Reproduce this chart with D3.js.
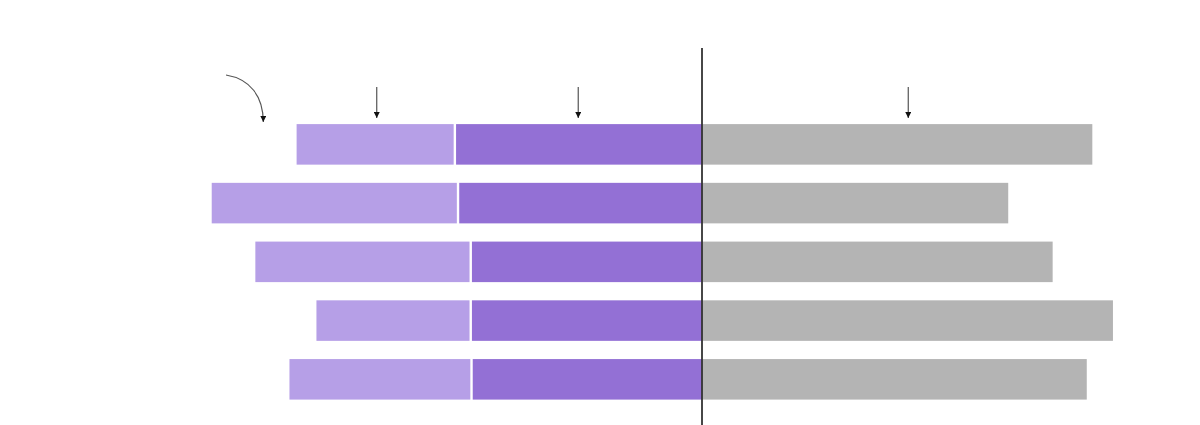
<!DOCTYPE html>
<html>
<head>
<meta charset="utf-8">
<script src="https://cdn.jsdelivr.net/npm/d3@7"></script>
<style>
  body { margin: 0; background: #fff; }
  svg { display: block; }
</style>
</head>
<body>
<svg width="1200" height="425"></svg>
<script>
// rows (top to bottom), values in % of each row
const rows = ["r1", "r2", "r3", "r4", "r5"];
const lightVals = [20.1, 31.2, 27.3, 19.6, 23.1];
const darkVals = [31.0, 30.6, 29.0, 29.0, 28.9];
const grayVals = [49.2, 38.6, 44.2, 51.8, 48.5];

// annotation arrows over the first row (x in data units)
const arrowXs = [-41.0, -15.6, 26.0];

const svg = d3.select("svg");

const xScale = d3.scaleLinear().domain([-60, 60]).range([226, 1178]);
const yScale = d3
  .scaleBand()
  .domain(rows)
  .range([115, 408.7])
  .paddingInner(0.31)
  .paddingOuter(0.155);

const data = rows.map((r, i) => ({
  row: r,
  light: lightVals[i],
  dark: darkVals[i],
  gray: grayVals[i]
}));

const defs = svg.append("defs");
defs
  .append("marker")
  .attr("id", "head")
  .attr("viewBox", "0 0 10 10")
  .attr("refX", 10)
  .attr("refY", 5)
  .attr("markerWidth", 6)
  .attr("markerHeight", 6)
  .attr("markerUnits", "userSpaceOnUse")
  .attr("orient", "auto")
  .append("path")
  .attr("d", "M0,0 L10,5 L0,10 Z")
  .attr("fill", "#111");

const bars = svg.append("g").attr("class", "bars");

// gray (right of zero)
bars
  .selectAll("rect.gray")
  .data(data)
  .enter()
  .append("rect")
  .attr("class", "gray")
  .attr("x", xScale(0))
  .attr("y", (d) => yScale(d.row))
  .attr("width", (d) => xScale(d.gray) - xScale(0))
  .attr("height", yScale.bandwidth())
  .attr("fill", "#b4b4b4");

// dark purple (left of zero)
bars
  .selectAll("rect.dark")
  .data(data)
  .enter()
  .append("rect")
  .attr("class", "dark")
  .attr("x", (d) => xScale(-d.dark))
  .attr("y", (d) => yScale(d.row))
  .attr("width", (d) => xScale(0) - xScale(-d.dark))
  .attr("height", yScale.bandwidth())
  .attr("fill", "#9370d5");

// light purple (further left), small white gap before dark
bars
  .selectAll("rect.light")
  .data(data)
  .enter()
  .append("rect")
  .attr("class", "light")
  .attr("x", (d) => xScale(-d.dark - d.light))
  .attr("y", (d) => yScale(d.row))
  .attr("width", (d) => xScale(-d.dark) - xScale(-d.dark - d.light) - 2.4)
  .attr("height", yScale.bandwidth())
  .attr("fill", "#b69fe7");

// zero line
svg
  .append("line")
  .attr("x1", xScale(0))
  .attr("x2", xScale(0))
  .attr("y1", 48)
  .attr("y2", 425)
  .attr("stroke", "#333")
  .attr("stroke-width", 1.8);

// straight arrows
svg
  .append("g")
  .selectAll("line")
  .data(arrowXs)
  .enter()
  .append("line")
  .attr("x1", (d) => xScale(d))
  .attr("x2", (d) => xScale(d))
  .attr("y1", 87)
  .attr("y2", 118)
  .attr("stroke", "#555")
  .attr("stroke-width", 1.2)
  .attr("marker-end", "url(#head)");

// curved arrow
const cx0 = xScale(-60);
const cx1 = xScale(-55.3);
svg
  .append("path")
  .attr("d", `M${cx0},75 C${cx0 + 24},79 ${cx1},96 ${cx1},122`)
  .attr("fill", "none")
  .attr("stroke", "#555")
  .attr("stroke-width", 1.2)
  .attr("marker-end", "url(#head)");
</script>
</body>
</html>
